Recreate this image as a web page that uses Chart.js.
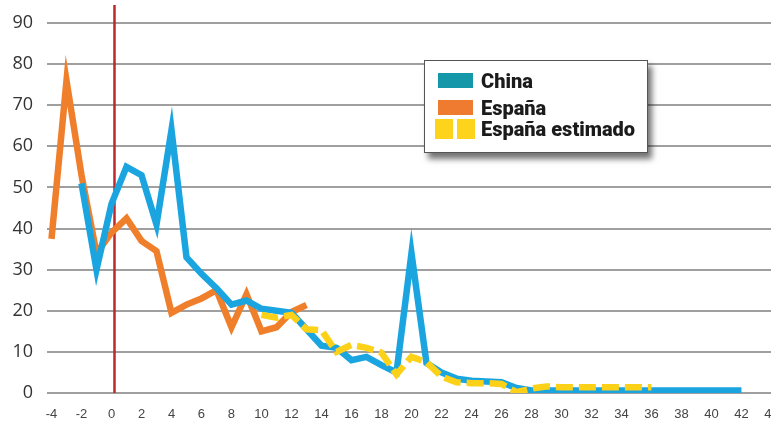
<!DOCTYPE html>
<html>
<head>
<meta charset="utf-8">
<script src="https://cdn.jsdelivr.net/npm/chart.js@4"></script>
<style>
  body { margin: 0; background: #fff; }
  #wrap { position: relative; width: 771px; height: 423px; }
  #leyenda {
    position: absolute; left: 424px; top: 60px; width: 222px; height: 91px;
    background: #fff; border: 1px solid #555;
    box-shadow: 4px 6px 6px rgba(0, 0, 0, 0.55);
    font-family: "Roboto", sans-serif;
    font-weight: 900; font-size: 20px; color: #1b1b1b;
  }
  .fila { position: absolute; left: 0; height: 20px; line-height: 20px; white-space: nowrap; }
  .muestra { position: absolute; }
  .txt { position: absolute; left: 56px; top: 0; }
</style>
</head>
<body>
<div id="wrap">
  <canvas id="grafico" width="771" height="423"></canvas>
  <div id="leyenda"></div>
</div>
<script>
// Días respecto al inicio de las medidas
const dias = [-4, -3, -2, -1, 0, 1, 2, 3, 4, 5, 6, 7, 8, 9, 10, 11, 12, 13, 14, 15, 16, 17, 18, 19,
    20, 21, 22, 23, 24, 25, 26, 27, 28, 29, 30, 31, 32, 33, 34, 35, 36, 37, 38, 39, 40, 41, 42];

// Valores por día (null = sin dato)
const china = [null, null, 51, 30, 46, 55, 53, 41, 64, 33, 29, 25.5, 21.5, 22.5, 20.5, 20, 19.5, 15.5,
    11.5, 11, 8, 8.8, 6.8, 5, 34, 7.3, 5, 3.5, 3, 2.8, 2.6, 1.2,
    0.6, 0.6, 0.6, 0.6, 0.6, 0.6, 0.6, 0.6, 0.6, 0.6, 0.6, 0.6, 0.6, 0.6, 0.6];

const espana = [37.5, 76, 53, 34, 39, 42.5, 37, 34.5, 19.5, 21.5, 23, 25, 16, 24, 15, 16, 19.7, 21.4,
    null, null, null, null, null, null, null, null, null, null, null, null, null, null, null, null, null,
    null, null, null, null, null, null, null, null, null, null, null, null];

const espanaEstimado = [null, null, null, null, null, null, null, null, null, null, null, null, null, null,
    19, 18.3, 19, 15.5, 15.3, 10, 11.7, 11, 9.8, 4.5, 8.8, 7.5, 4, 2.6, 2.4, 2.4, 2.2, 0.2, 1.1, 1.6,
    1.4, 1.4, 1.4, 1.4, 1.4, 1.4, 1.4, null, null, null, null, null, null];

// Línea roja vertical (inicio del confinamiento)
const diaMarca = 0.2;

const xTicks = [-4, -2, 0, 2, 4, 6, 8, 10, 12, 14, 16, 18, 20, 22, 24, 26, 28, 30, 32, 34, 36, 38, 40, 42, 44];
const yTicks = [0, 10, 20, 30, 40, 50, 60, 70, 80, 90];

const series = [
    { nombre: 'China', datos: china, color: '#1aa5e0', muestra: '#1597aa' },
    { nombre: 'España', datos: espana, color: '#f07f2c', muestra: '#ee7b30' },
    { nombre: 'España estimado', datos: espanaEstimado, color: '#fcd118', muestra: '#fdd31c', dash: [17, 6] }
];

const puntos = arr => arr.map((v, i) => ({ x: dias[i], y: v }));

// orden de dibujo: estimado arriba, luego China, luego España
const ordenes = [1, 2, 0];

const datasets = series.map((s, i) => ({
    label: s.nombre,
    data: puntos(s.datos),
    borderColor: s.color,
    borderWidth: 6.5,
    borderDash: s.dash || [],
    borderJoinStyle: 'miter',
    pointRadius: 0,
    tension: 0,
    spanGaps: false,
    order: ordenes[i]
}));

datasets.push({
    label: 'marca',
    data: [{ x: diaMarca, y: 0 }, { x: diaMarca, y: 94.4 }],
    borderColor: '#c0272d',
    borderWidth: 2.5,
    pointRadius: 0,
    order: 3
});

new Chart(document.getElementById('grafico'), {
    type: 'line',
    data: { datasets },
    options: {
        responsive: false,
        animation: false,
        devicePixelRatio: 1,
        layout: { padding: 0 },
        plugins: { legend: { display: false }, tooltip: { enabled: false } },
        scales: {
            x: {
                type: 'linear',
                min: -4.3,
                max: 43.97,
                afterBuildTicks: scale => { scale.ticks = xTicks.map(v => ({ value: v })); },
                afterFit: scale => { scale.height = 30; scale.paddingLeft = 0; scale.paddingRight = 0; },
                grid: { display: false, drawTicks: false },
                border: { display: false },
                ticks: {
                    autoSkip: false,
                    maxRotation: 0,
                    padding: 14,
                    color: '#444',
                    font: { family: '"Liberation Sans Narrow", "Liberation Sans", sans-serif', size: 13 }
                }
            },
            y: {
                min: 0,
                max: 95.6,
                afterBuildTicks: scale => { scale.ticks = yTicks.map(v => ({ value: v })); },
                afterFit: scale => { scale.width = 47; scale.paddingTop = 0; scale.paddingBottom = 0; },
                grid: { color: '#9f9f9f', lineWidth: 2, drawTicks: false },
                border: { display: false },
                ticks: {
                    padding: 14,
                    color: '#333',
                    font: { family: '"Open Sans", sans-serif', size: 18 }
                }
            }
        }
    }
});

// Leyenda propia, dentro del área del gráfico
const leyenda = document.getElementById('leyenda');
const filasTop = [10, 37, 58];
series.forEach((s, i) => {
    const fila = document.createElement('div');
    fila.className = 'fila';
    fila.style.top = filasTop[i] + 'px';
    if (s.dash) {
        [10, 32].forEach(left => {
            const sq = document.createElement('div');
            sq.className = 'muestra';
            sq.style.cssText = `left:${left}px;top:0;width:18px;height:20px;background:${s.muestra}`;
            fila.appendChild(sq);
        });
    } else {
        const sq = document.createElement('div');
        sq.className = 'muestra';
        sq.style.cssText = `left:13px;top:2px;width:35px;height:15px;background:${s.muestra}`;
        fila.appendChild(sq);
    }
    const txt = document.createElement('span');
    txt.className = 'txt';
    txt.textContent = s.nombre;
    fila.appendChild(txt);
    leyenda.appendChild(fila);
});
</script>
</body>
</html>
